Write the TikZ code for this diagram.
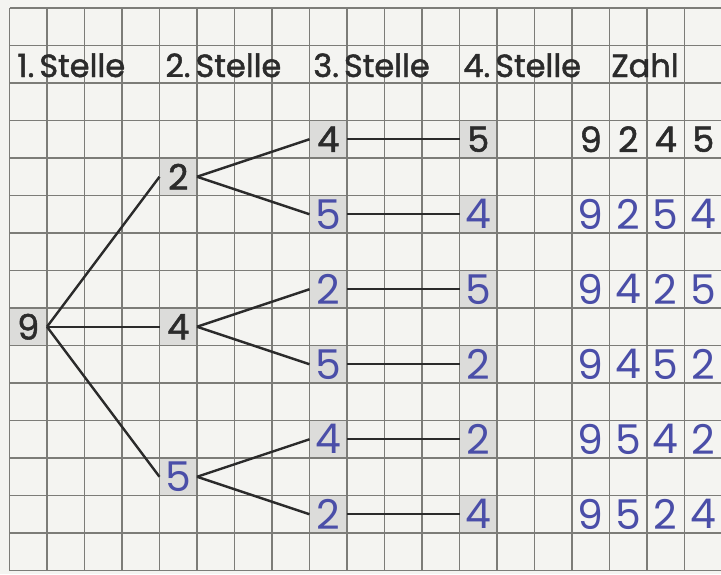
\documentclass[tikz,border=0pt]{standalone}
\usepackage{fontspec}
\setmainfont{Poppins}
\newfontfamily\printfont{Poppins}[FakeBold=1.5]
\newfontfamily\penfont{Poppins}
\definecolor{paper}{HTML}{F4F4F1}
\definecolor{gridc}{HTML}{7C7C78}
\definecolor{shade}{HTML}{DCDCDA}
\definecolor{ink}{HTML}{2B2B2B}
\definecolor{pen}{HTML}{4A4EA8}
\tikzset{
  gridline/.style={draw=gridc, line width=0.55pt},
  cellbox/.style={minimum width=18.75pt, minimum height=18.75pt, inner sep=0pt, outer sep=0pt, anchor=center},
  printed/.style={cellbox, fill=shade, text=ink, font=\printfont\fontsize{17.5}{19}\selectfont},
  written/.style={cellbox, fill=shade, text=pen, font=\penfont\fontsize{20.5}{22}\selectfont},
  zprinted/.style={cellbox, text=ink, font=\printfont\fontsize{17.5}{19}\selectfont},
  zwritten/.style={cellbox, text=pen, font=\penfont\fontsize{20.5}{22}\selectfont},
  header/.style={anchor=base west, inner sep=0pt, text=ink, font=\printfont\fontsize{16}{18}\selectfont},
  branch/.style={draw=ink, line width=1.2pt}
}
\newcommand{\hdsp}{\hspace{2.5pt}}
\begin{document}
\begin{tikzpicture}[x=0.5pt,y=-0.5pt]
\useasboundingbox (0,0) rectangle (721,574);
\fill[paper] (0,0) rectangle (721,574);
% nodes of the tree
\node[printed] (n9) at (28.25,326.75) {9};
\node[printed] (n2) at (178.25,176.75) {2};
\node[printed] (n4) at (178.25,326.75) {4};
\node[written] (n5) at (178.25,476.75) {5};
\node[printed] (n24) at (328.25,139.25) {4};
\node[written] (n25) at (328.25,214.25) {5};
\node[written] (n42) at (328.25,289.25) {2};
\node[written] (n45) at (328.25,364.25) {5};
\node[written] (n54) at (328.25,439.25) {4};
\node[written] (n52) at (328.25,514.25) {2};
\node[printed] (n245) at (478.25,139.25) {5};
\node[written] (n254) at (478.25,214.25) {4};
\node[written] (n425) at (478.25,289.25) {5};
\node[written] (n452) at (478.25,364.25) {2};
\node[written] (n542) at (478.25,439.25) {2};
\node[written] (n524) at (478.25,514.25) {4};
% grid
\foreach \i in {0,...,19}
  \draw[gridline] (9.5+37.5*\i,8) -- (9.5+37.5*\i,571);
\foreach \j in {0,...,15}
  \draw[gridline] (9.5,8+37.5*\j) -- (721,8+37.5*\j);
% headers
\node[header] (h1) at (17,77) {1.\hdsp Stelle};
\node[header] (h2) at (165,77) {2.\hdsp Stelle};
\node[header] (h3) at (313,77) {3.\hdsp Stelle};
\node[header] (h4) at (463,77) {4.\hdsp Stelle};
\node[header] (h5) at (611,77) {Zahl};
% connectors
\draw[branch] (n9.east) -- (n2.west);
\draw[branch] (n9.east) -- (n4.west);
\draw[branch] (n9.east) -- (n5.west);
\draw[branch] (n2.east) -- (n24.west);
\draw[branch] (n2.east) -- (n25.west);
\draw[branch] (n4.east) -- (n42.west);
\draw[branch] (n4.east) -- (n45.west);
\draw[branch] (n5.east) -- (n54.west);
\draw[branch] (n5.east) -- (n52.west);
\draw[branch] (n24.east) -- (n245.west);
\draw[branch] (n25.east) -- (n254.west);
\draw[branch] (n42.east) -- (n425.west);
\draw[branch] (n45.east) -- (n452.west);
\draw[branch] (n54.east) -- (n542.west);
\draw[branch] (n52.east) -- (n524.west);
% Zahl column
\foreach \d [count=\k] in {9,2,4,5}
  \node[zprinted] (za\k) at (553.25+37.5*\k,139.25) {\d};
\foreach \a/\b/\c/\e/\y/\nm in {9/2/5/4/214.25/b, 9/4/2/5/289.25/c, 9/4/5/2/364.25/d, 9/5/4/2/439.25/e, 9/5/2/4/514.25/f}{
  \node[zwritten] (z\nm1) at (590.75,\y) {\a};
  \node[zwritten] (z\nm2) at (628.25,\y) {\b};
  \node[zwritten] (z\nm3) at (665.75,\y) {\c};
  \node[zwritten] (z\nm4) at (703.25,\y) {\e};
}
\end{tikzpicture}
\end{document}
